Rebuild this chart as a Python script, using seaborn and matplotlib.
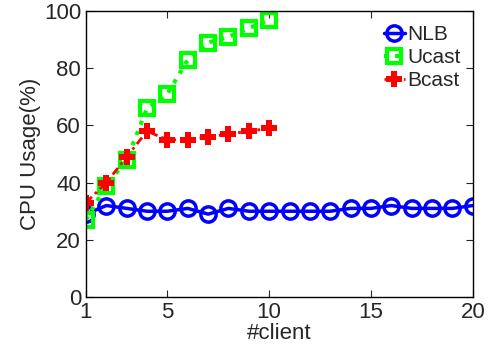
import numpy as np
import pandas as pd
import matplotlib
matplotlib.use("Agg")
import matplotlib.pyplot as plt
import seaborn as sns

# data
nlb_clients = list(range(1, 21))
nlb_cpu = [29, 32, 31, 30, 30, 31, 29, 31, 30, 30, 30, 30, 30, 31, 31, 32, 31, 31, 31, 32]
cast_clients = list(range(1, 11))
ucast_cpu = [27, 39, 48, 66, 71, 83, 89, 91, 94, 97]
bcast_cpu = [33, 40, 49, 58, 55, 55, 56, 57, 58, 59]

xticks = [1, 5, 10, 15, 20]
yticks = [0, 20, 40, 60, 80, 100]

sns.set_style("ticks")
plt.rcParams["font.family"] = ["Liberation Sans", "DejaVu Sans"]

fig = plt.figure(figsize=(4.94, 3.47), dpi=100)
ax = fig.add_axes([0.174, 0.144, 0.783, 0.824])

sns.lineplot(x=nlb_clients, y=nlb_cpu, ax=ax, color="#0000ff", lw=2.5,
             marker="o", markersize=11, markerfacecolor="none",
             markeredgewidth=2.5, markeredgecolor="#0000ff", label="NLB")
sns.lineplot(x=cast_clients, y=ucast_cpu, ax=ax, color="#00ff00", lw=3,
             linestyle=":", marker="s", markersize=10, markerfacecolor="none",
             markeredgewidth=3, markeredgecolor="#00ff00", label="Ucast")
sns.lineplot(x=cast_clients, y=bcast_cpu, ax=ax, color="#ff0000", lw=2,
             dashes=(3, 1.5, 1, 1.5), marker="P", markersize=11,
             markeredgewidth=0, label="Bcast")

ax.set_xlim(1, 20)
ax.set_ylim(0, 100)
ax.set_xticks(xticks)
ax.set_yticks(yticks)
ax.tick_params(direction="in", top=True, right=True, labelsize=16, length=5)
ax.set_xlabel("#client", fontsize=16, labelpad=0)
ax.set_ylabel("CPU Usage(%)", fontsize=16, labelpad=2)
for s in ax.spines.values():
    s.set_visible(True)
    s.set_linewidth(1)
    s.set_color("black")

leg = ax.legend(loc="upper right", bbox_to_anchor=(1.0, 0.995), fontsize=15,
                handlelength=1.0, handletextpad=0.1, borderaxespad=0.2,
                frameon=False, labelspacing=0.2)

fig.savefig("out.png", dpi=100)
